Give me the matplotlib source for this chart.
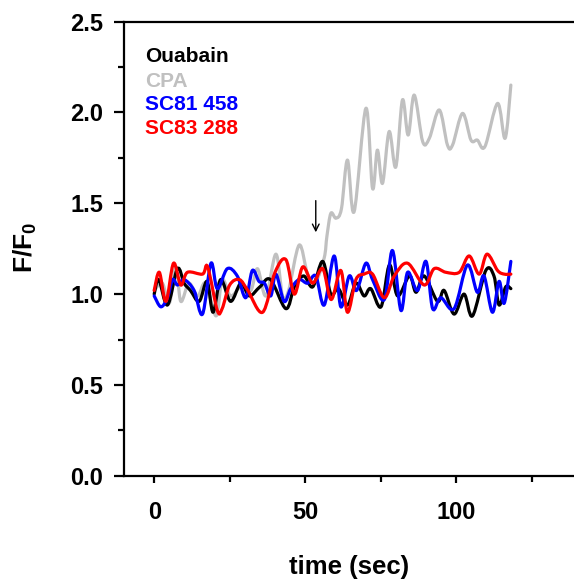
import matplotlib
matplotlib.use("Agg")
import matplotlib.pyplot as plt
from matplotlib.path import Path
from matplotlib.patches import PathPatch

plt.rcParams['font.family'] = ['Liberation Sans', 'DejaVu Sans']
plt.rcParams['font.weight'] = 'bold'
plt.rcParams['mathtext.fontset'] = 'custom'
plt.rcParams['mathtext.rm'] = 'Liberation Sans'
plt.rcParams['mathtext.bf'] = 'Liberation Sans:bold'

# Ouabain trace
t_ouabain = [0, 1.5, 4.4, 7.7, 9.9, 12, 14.9, 17.5, 19.5, 22, 25.3, 28.7, 31.5, 35,
             38.5, 43.6, 46.4, 49.5, 52.5, 55.8, 58.5, 61, 64, 66.8, 69.5, 71.7, 75.1,
             77.9, 80.6, 84.5, 86.7, 89.4, 93.8, 96, 99.3, 102.6, 105.4, 109.8, 112.5,
             114.2, 116.4, 118.1]
f_ouabain = [1.00, 1.08, 0.94, 1.14, 1.06, 1.02, 0.96, 1.07, 0.90, 1.08, 0.96, 1.06,
             0.99, 1.04, 1.08, 0.92, 1.04, 1.10, 1.04, 1.18, 1.00, 1.03, 0.94, 1.06,
             0.99, 1.03, 0.93, 1.16, 0.99, 1.10, 1.01, 1.10, 0.96, 1.02, 0.89, 1.00,
             0.88, 1.13, 1.10, 0.94, 1.04, 1.03]

# CPA trace
t_cpa = [0, 2.7, 5, 7.2, 8.8, 11.5, 14.4, 17, 20.5, 22.5, 25.3, 28.7, 32, 34.2, 37,
         40.3, 42.5, 44.5, 48, 50.8, 53.5, 56.3, 57.2, 58.5, 60.2, 62, 64, 66.2, 70.1,
         72.3, 73.9, 75.6, 77.8, 80, 82.2, 84.1, 86.1, 88.9, 91.1, 94.4, 97.1, 98.8,
         102.1, 104.9, 107, 109.5, 113.7, 116.2, 118.1]
f_cpa = [1.02, 1.06, 0.95, 1.15, 0.96, 1.06, 0.99, 1.06, 0.88, 1.08, 0.99, 1.04, 1.02,
         1.14, 0.99, 1.22, 0.99, 1.02, 1.27, 1.11, 1.07, 1.20, 1.32, 1.445, 1.418, 1.47,
         1.738, 1.454, 2.023, 1.582, 1.793, 1.61, 1.895, 1.70, 2.069, 1.876, 2.096,
         1.84, 1.858, 2.014, 1.821, 1.821, 1.995, 1.848, 1.848, 1.812, 2.05, 1.858, 2.151]

# SC81 458 trace
t_sc81 = [0, 2.2, 4.4, 6.1, 7.7, 9.9, 13.2, 16, 18.8, 20.9, 24.2, 27.5, 30.3, 32.5,
          34.7, 36.5, 38.6, 40.3, 43, 45.2, 48, 50.8, 53.5, 56.3, 59.6, 61.8, 64.6, 67,
          70.1, 72.3, 76.2, 78.9, 81.7, 83.9, 87.2, 90, 92.2, 94.9, 99.3, 103.7, 107,
          109.2, 112, 114.2, 115.9, 118.1]
f_sc81 = [0.99, 0.93, 0.98, 1.08, 1.05, 1.08, 1.02, 0.89, 1.17, 1.03, 1.14, 1.10, 0.98,
          1.13, 1.07, 1.06, 0.99, 1.11, 0.96, 1.03, 1.08, 1.06, 1.10, 0.94, 1.21, 0.93,
          1.10, 1.02, 1.17, 1.08, 0.97, 1.24, 0.91, 1.12, 1.02, 1.18, 0.92, 0.98, 0.92,
          1.16, 1.01, 1.10, 0.90, 1.07, 0.95, 1.18]

# SC83 288 trace
t_sc83 = [0, 1.7, 3.9, 6.4, 8.8, 11, 16, 17.7, 20.9, 22.5, 25, 28.2, 31, 35.9, 40,
          43.6, 46.4, 49.2, 52.5, 55.8, 58.6, 61.8, 64, 66.8, 69.5, 72.3, 76.2, 79.5,
          83.9, 89.4, 92.7, 96.6, 101, 104.3, 107.6, 110.2, 113.7, 115.9, 118.1]
f_sc83 = [1.02, 1.12, 0.96, 1.17, 1.05, 1.12, 1.11, 1.15, 0.91, 0.92, 1.05, 1.08,
          1.02, 0.90, 1.12, 1.19, 1.00, 1.15, 1.06, 1.14, 0.97, 1.13, 0.90, 1.08, 1.11,
          1.11, 0.98, 1.10, 1.17, 1.05, 1.14, 1.12, 1.12, 1.21, 1.11, 1.22, 1.13, 1.11,
          1.11]

labels = ['Ouabain', 'CPA', 'SC81 458', 'SC83 288']
colors = ['black', '#c0c0c0', '#0000ff', '#ff0000']

# time of drug addition
arrow_t = 53.5
arrow_top, arrow_tip = 1.53, 1.325


def smooth_path(t, f):
    """Cubic Bezier path passing through every sample (Catmull-Rom tangents)."""
    pts = list(zip(t, f))
    n = len(pts)
    verts = [pts[0]]
    codes = [Path.MOVETO]
    for i in range(n - 1):
        p0 = pts[max(i - 1, 0)]
        p1 = pts[i]
        p2 = pts[i + 1]
        p3 = pts[min(i + 2, n - 1)]
        c1 = (p1[0] + (p2[0] - p0[0]) / 6, p1[1] + (p2[1] - p0[1]) / 6)
        c2 = (p2[0] - (p3[0] - p1[0]) / 6, p2[1] - (p3[1] - p1[1]) / 6)
        verts += [c1, c2, p2]
        codes += [Path.CURVE4] * 3
    return Path(verts, codes)


W, H = 574, 584
fig = plt.figure(figsize=(W / 100, H / 100), dpi=100)
ax = fig.add_axes([124 / W, 1 - 475.7 / H, (577 - 124) / W, (475.7 - 21.7) / H])

series = [(t_cpa, f_cpa, colors[1]), (t_ouabain, f_ouabain, colors[0]),
          (t_sc81, f_sc81, colors[2]), (t_sc83, f_sc83, colors[3])]
for t, f, c in series:
    ax.add_patch(PathPatch(smooth_path(t, f), fill=False, edgecolor=c, lw=2.3,
                           joinstyle='round', capstyle='round'))

ax.annotate('', xy=(arrow_t, arrow_tip), xytext=(arrow_t, arrow_top),
            arrowprops=dict(arrowstyle='->', lw=1.0, color='black', mutation_scale=12))

ax.set_xlim(-10, 140)
ax.set_ylim(0, 2.5)
ax.set_xticks([0, 50, 100])
ax.set_xticks([25, 75, 125], minor=True)
ax.set_yticks([0, 0.5, 1.0, 1.5, 2.0, 2.5])
ax.set_yticklabels(['0.0', '0.5', '1.0', '1.5', '2.0', '2.5'])
ax.set_yticks([0.25, 0.75, 1.25, 1.75, 2.25], minor=True)

ax.spines['right'].set_visible(False)
for s in ['left', 'top', 'bottom']:
    ax.spines[s].set_linewidth(1.6)

ax.tick_params(axis='both', which='major', direction='out', width=1.6, labelsize=17)
ax.tick_params(axis='y', which='major', length=7, pad=8)
ax.tick_params(axis='y', which='minor', length=4.5, width=1.6)
ax.tick_params(axis='x', which='major', length=5, pad=13)
ax.tick_params(axis='x', which='minor', length=4, width=1.6)
ax.tick_params(top=False, right=False)
for lab in ax.get_xticklabels() + ax.get_yticklabels():
    lab.set_fontweight('bold')

fig.text(349 / W, 1 - 567 / H, 'time (sec)', fontsize=18.5, fontweight='bold',
         ha='center', va='center')
fig.text(25 / W, 1 - 247 / H, r'$\mathbf{F/F_0}$', fontsize=19, rotation=90,
         ha='center', va='center')

for i, (lab, c) in enumerate(zip(labels, colors)):
    fig.text(145 / W, 1 - (57 + 24 * i) / H, lab, color=c, fontsize=15,
             fontweight='bold', ha='left', va='center')

fig.savefig('out.png', dpi=100)
